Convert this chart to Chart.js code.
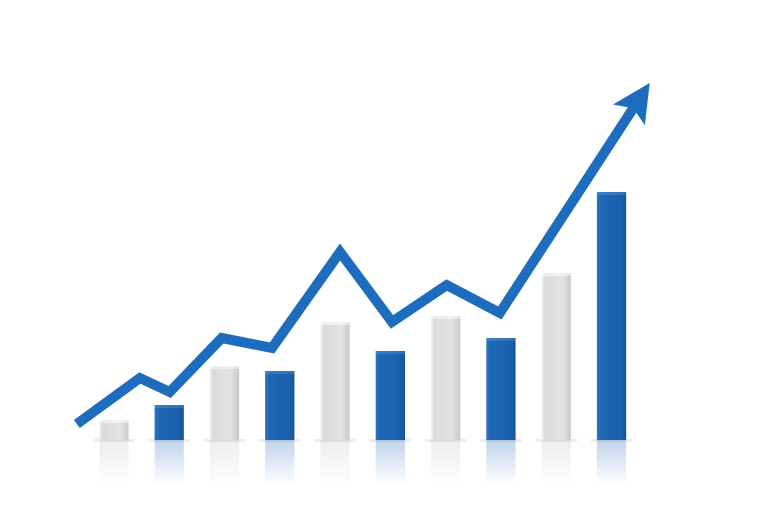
<!DOCTYPE html>
<html><head><meta charset="utf-8">
<style>html,body{margin:0;padding:0;background:#fff;}#wrap{width:768px;height:521px;}</style>
<script src="https://cdn.jsdelivr.net/npm/chart.js@4"></script>
</head><body><div id="wrap"><canvas id="c"></canvas></div>
<script>
const barPositions = [0,1,2,3,4,5,6,7,8,9];
const barValues = [20,35,74,69,118,89,124,102,167,248];
const barKinds = ['w','b','w','b','w','b','w','b','w','b'];
const lineX = [-0.67,0.47,1.01,1.95,2.86,4.09,5.03,6.02,6.98,9.69];
const lineY = [16,62,48,102,92,188,118,155,127,357];

const BLUE='#1e6cbd';
const ctx0=document.getElementById('c').getContext('2d');

const shading={
  id:'shading',
  beforeDatasetsDraw(chart){
    const c=chart.ctx, meta=chart.getDatasetMeta(0);
    c.save();
    meta.data.forEach((bar,i)=>{
      const w=bar.width, x=bar.x-w/2, b=bar.base;
      const g=c.createLinearGradient(0,b,0,b+45);
      const col=barKinds[i]==='b'?'30,100,180':'190,190,190';
      g.addColorStop(0,'rgba('+col+',0.28)');
      g.addColorStop(1,'rgba('+col+',0)');
      c.fillStyle=g;c.fillRect(x,b,w,45);
      c.fillStyle='rgba(0,0,0,0.07)';
      c.fillRect(x-6,b-1,w+12,3);
    });
    c.restore();
  },
  afterDatasetDraw(chart,args){
    if(args.index!==0)return;
    const c=chart.ctx, meta=chart.getDatasetMeta(0);
    c.save();
    meta.data.forEach((bar,i)=>{
      const w=bar.width, x=bar.x-w/2, y=bar.y, b=bar.base;
      const g=c.createLinearGradient(x,0,x+w,0);
      if(barKinds[i]==='b'){
        g.addColorStop(0,'#2a74c4');g.addColorStop(0.15,'#1d67b6');g.addColorStop(0.8,'#1a60ad');g.addColorStop(1,'#15549a');
      }else{
        g.addColorStop(0,'#f2f2f2');g.addColorStop(0.12,'#dadada');g.addColorStop(0.7,'#e4e4e4');g.addColorStop(1,'#c9c9c9');
      }
      c.fillStyle=g;c.fillRect(x,y,w,b-y);
      c.fillStyle=barKinds[i]==='b'?'rgba(255,255,255,0.12)':'rgba(255,255,255,0.5)';
      c.fillRect(x,y,w,3);
    });
    c.restore();
  },
  beforeDatasetDraw(chart,args){
    if(args.index!==1)return;
    const c=chart.ctx, meta=chart.getDatasetMeta(1), pts=meta.data, n=pts.length;
    const tip=pts[n-1], prev=pts[n-2];
    const dx=tip.x-prev.x, dy=tip.y-prev.y, L=Math.hypot(dx,dy), ux=dx/L, uy=dy/L;
    const bx=tip.x-ux*30, by=tip.y-uy*30;
    c.save();
    c.beginPath();
    const px=-uy, py=ux, F=3000;
    c.moveTo(bx+px*F,by+py*F);c.lineTo(bx-px*F,by-py*F);
    c.lineTo(bx-px*F-ux*F,by-py*F-uy*F);c.lineTo(bx+px*F-ux*F,by+py*F-uy*F);
    c.closePath();c.clip();
  }
};
const arrow={
  id:'arrow',
  afterDatasetDraw(chart,args){
    if(args.index!==1)return;
    const c=chart.ctx;
    c.restore();
    const meta=chart.getDatasetMeta(1), pts=meta.data, n=pts.length;
    const tip=pts[n-1], prev=pts[n-2];
    const dx=tip.x-prev.x, dy=tip.y-prev.y, L=Math.hypot(dx,dy), ux=dx/L, uy=dy/L;
    const px=-uy, py=ux, hl=38, hw=19;
    const bx=tip.x-ux*hl, by=tip.y-uy*hl;
    c.save();
    c.beginPath();
    c.moveTo(tip.x,tip.y);
    c.lineTo(bx+px*hw,by+py*hw);
    c.lineTo(tip.x-ux*(hl-8),tip.y-uy*(hl-8));
    c.lineTo(bx-px*hw,by-py*hw);
    c.closePath();
    c.fillStyle=BLUE;c.fill();
    c.restore();
  }
};

new Chart(ctx0,{
  data:{datasets:[
    {type:'bar',data:barPositions.map((x,i)=>({x:x,y:barValues[i]})),backgroundColor:'rgba(0,0,0,0)',barPercentage:0.53,categoryPercentage:1,order:2},
    {type:'line',data:lineX.map((x,i)=>({x:x,y:lineY[i]})),borderColor:BLUE,borderWidth:10,tension:0,pointRadius:0,borderJoinStyle:'miter',borderCapStyle:'butt',fill:false,order:1}
  ]},
  options:{
    responsive:true,maintainAspectRatio:false,animation:false,
    layout:{padding:0},
    plugins:{legend:{display:false},tooltip:{enabled:false}},
    scales:{
      x:{type:'linear',min:-2.06,max:11.83,display:false,offset:false},
      y:{min:-81,max:440,display:false}
    }
  },
  plugins:[shading,arrow]
});
</script></body></html>
